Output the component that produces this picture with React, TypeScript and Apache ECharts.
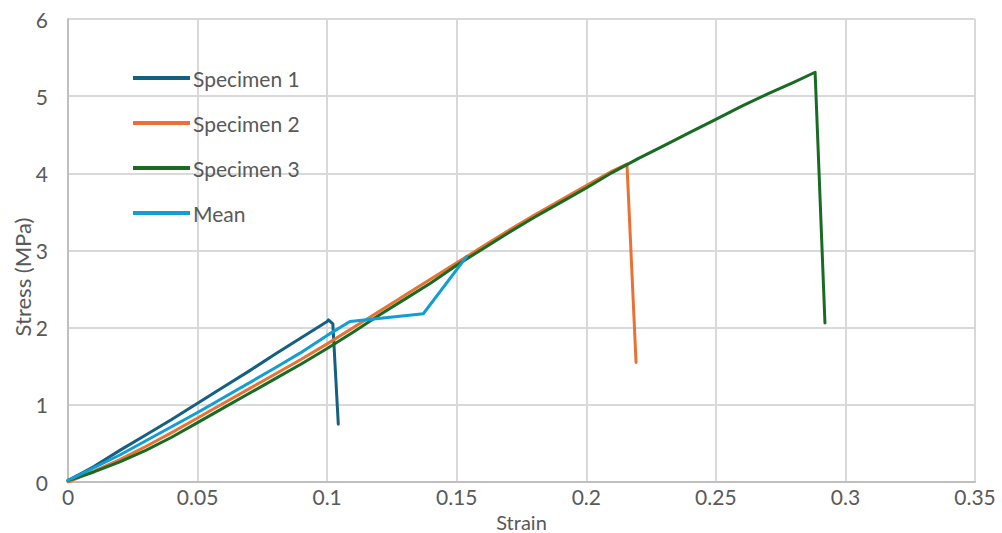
import React, { useEffect, useRef } from "react";
import * as echarts from "echarts";

const xTicks = ["0", "0.05", "0.1", "0.15", "0.2", "0.25", "0.3", "0.35"];
const yTicks = ["0", "1", "2", "3", "4", "5", "6"];

const specimen1: [number, number][] = [
  [0, 0.02], [0.01, 0.2], [0.02, 0.41], [0.03, 0.61], [0.04, 0.81], [0.05, 1.02],
  [0.06, 1.23], [0.07, 1.44], [0.08, 1.66], [0.09, 1.87], [0.1, 2.08], [0.1005, 2.1],
  [0.1022, 2.05], [0.1043, 0.75],
];
const specimen2: [number, number][] = [
  [0, 0], [0.01, 0.14], [0.02, 0.29], [0.03, 0.46], [0.04, 0.64], [0.05, 0.83],
  [0.06, 1.02], [0.07, 1.21], [0.08, 1.4], [0.09, 1.59], [0.1, 1.79], [0.11, 2.0],
  [0.12, 2.21], [0.13, 2.42], [0.14, 2.63], [0.15, 2.84], [0.16, 3.05], [0.17, 3.26],
  [0.18, 3.46], [0.19, 3.65], [0.2, 3.84], [0.21, 4.03], [0.2157, 4.12], [0.2192, 1.55],
];
const specimen3: [number, number][] = [
  [0, 0.02], [0.01, 0.13], [0.02, 0.26], [0.03, 0.41], [0.04, 0.58], [0.05, 0.77],
  [0.06, 0.96], [0.07, 1.15], [0.08, 1.34], [0.09, 1.53], [0.1, 1.73], [0.11, 1.94],
  [0.12, 2.16], [0.13, 2.37], [0.14, 2.58], [0.15, 2.81], [0.16, 3.02], [0.17, 3.23],
  [0.18, 3.43], [0.19, 3.62], [0.2, 3.81], [0.21, 4.01], [0.22, 4.19], [0.23, 4.36],
  [0.24, 4.53], [0.25, 4.7], [0.26, 4.87], [0.27, 5.03], [0.28, 5.18], [0.2883, 5.31],
  [0.2921, 2.06],
];
const mean: [number, number][] = [
  [0, 0.02], [0.02, 0.35], [0.05, 0.9], [0.08, 1.48], [0.0895, 1.67], [0.1, 1.9],
  [0.1088, 2.08], [0.1371, 2.18], [0.1538, 2.92],
];

const seriesNames = ["Specimen 1", "Specimen 2", "Specimen 3", "Mean"];
const seriesColors = ["#156082", "#E97132", "#196B24", "#0F9ED5"];
const seriesData = [specimen1, specimen2, specimen3, mean];

const FONT = "Lato";
const TEXT = "#595959";

export default function App() {
  const ref = useRef<HTMLDivElement>(null);
  useEffect(() => {
    if (!ref.current) return;
    const chart = echarts.init(ref.current, undefined, { renderer: "svg" });
    chart.setOption({
      animation: false,
      backgroundColor: "#ffffff",
      textStyle: { fontFamily: FONT },
      grid: {
        left: 68,
        right: 27,
        top: 19,
        bottom: 51,
        containLabel: false,
        outerBoundsMode: "none",
      },
      legend: {
        orient: "vertical",
        left: 133,
        top: 67,
        padding: 0,
        itemWidth: 57,
        itemHeight: 4,
        itemGap: 23,
        icon: "rect",
        data: seriesNames,
        textStyle: {
          color: TEXT,
          fontSize: 21,
          lineHeight: 22,
          fontFamily: FONT,
          padding: [0, 0, 0, -2],
        },
      },
      xAxis: {
        type: "value",
        min: 0,
        max: 0.35,
        interval: 0.05,
        name: "Strain",
        nameLocation: "middle",
        nameGap: 27,
        nameTextStyle: { color: TEXT, fontSize: 20, lineHeight: 20, fontFamily: FONT },
        axisLine: { show: true, lineStyle: { color: "#bfbfbf", width: 2 } },
        axisTick: { show: false },
        splitLine: { show: true, lineStyle: { color: "#d9d9d9", width: 2 } },
        axisLabel: {
          color: TEXT,
          fontSize: 21,
          fontFamily: FONT,
          margin: 4,
          formatter: (v: number) => xTicks[Math.round(v / 0.05)] ?? "",
        },
      },
      yAxis: {
        type: "value",
        min: 0,
        max: 6,
        interval: 1,
        axisLine: { show: true, lineStyle: { color: "#bfbfbf", width: 2 } },
        axisTick: { show: false },
        splitLine: { show: true, lineStyle: { color: "#d9d9d9", width: 2 } },
        axisLabel: {
          color: TEXT,
          fontSize: 21,
          fontFamily: FONT,
          margin: 20,
          formatter: (v: number) => yTicks[Math.round(v)] ?? "",
        },
      },
      graphic: [
        {
          type: "text",
          x: 22,
          y: 277,
          rotation: Math.PI / 2,
          style: {
            text: "Stress (MPa)",
            fill: TEXT,
            fontSize: 22,
            fontFamily: FONT,
            textAlign: "center",
            textVerticalAlign: "middle",
          },
        },
      ],
      series: seriesNames.map((name, i) => ({
        name,
        type: "line",
        data: seriesData[i],
        showSymbol: false,
        symbol: "none",
        lineStyle: { color: seriesColors[i], width: 3, join: "round", cap: "round" },
        itemStyle: { color: seriesColors[i] },
        z: 2 + i,
      })),
    });
    return () => chart.dispose();
  }, []);
  return <div ref={ref} style={{ width: 1002, height: 533, position: "absolute", left: 0, top: 0 }} />;
}
